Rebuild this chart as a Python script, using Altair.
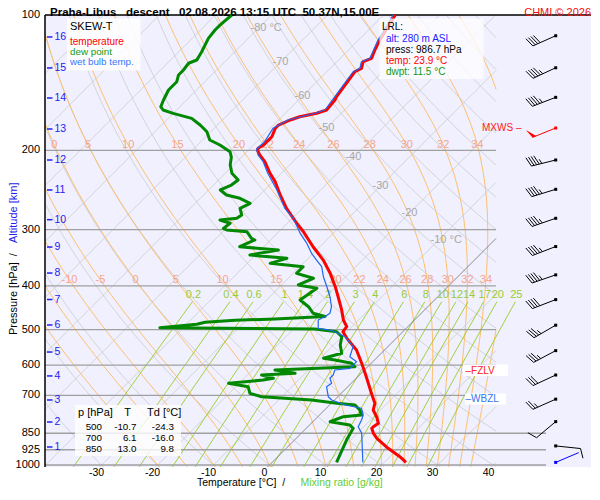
import numpy as np
import pandas as pd
import altair as alt

FONT = "Liberation Sans"

# ---------------------------------------------------------------- sounding
temp_p = [100, 113.7, 119.6, 124.8, 127.0, 131.4, 133.7, 151.9, 154.5, 162.6,
          165.3, 168.3, 171.1, 175.6, 178.6, 186.4, 191.2, 194.5, 197.8, 200,
          204.7, 211.8, 224.8, 234.6, 251.2, 268.9, 290.3, 303.1, 327.3, 350.4,
          375.0, 401.6, 422.7, 452.4, 476.2, 492.8, 505.6, 523.0, 555.3, 594.3,
          625.5, 658.3, 693.0, 729.4, 754.8, 781.1, 807.9, 822.1, 828.8, 850.3,
          872.3, 918.1, 958.5, 986.7]
temp_t = [-57.9, -56.2, -55.3, -54.4, -55.3, -54.4, -55.0, -53.8, -53.5, -53.2,
          -54.4, -56.8, -57.9, -59.1, -59.1, -58.2, -58.2, -58.2, -58.6, -58.3,
          -57.1, -55.0, -52.0, -49.6, -46.3, -42.8, -38.3, -35.6, -31.2, -27.0,
          -23.4, -20.1, -17.8, -14.8, -12.7, -10.9, -10.7, -8.8, -5.0, -1.7,
          0.7, 3.05, 5.4, 7.8, 8.7, 10.5, 12.0, 11.7, 11.7, 12.9,
          14.4, 18.2, 21.8, 23.9]

dwpt_p = [100, 105.3, 108.0, 112.7, 120.7, 125.9, 128.0, 132.5, 135.9, 140.7,
          146.8, 154.5, 159.9, 162.6, 165.4, 169.7, 175.6, 181.7, 189.6, 194.5,
          201.3, 206.9, 215.4, 224.8, 232.6, 238.7, 244.8, 251.2, 255.5, 262.1,
          268.9, 278.3, 283.0, 285.5, 290.3, 297.9, 300.5, 303.1, 313.5, 316.2,
          327.3, 332.9, 341.5, 347.3, 356.3, 362.5, 375.0, 384.7, 398.1, 404.9,
          429.9, 444.9, 460.1, 467.7, 473.8, 476.9, 481.8, 486.8, 495.4, 498.7,
          505.6, 518.7, 541.2, 564.7, 579.3, 584.3, 594.3, 604.8, 615.1, 625.5,
          631.0, 641.7, 647.3, 658.3, 669.9, 693.0, 705.1, 717.1, 729.3, 735.6,
          754.6, 774.3, 781.0, 801.4, 815.1, 829.0, 880.1, 986.7]
dwpt_t = [-87.1, -87.4, -87.4, -87.1, -85.9, -85.3, -86.2, -85.9, -85.9, -85.0,
          -85.0, -84.1, -83.4, -82.4, -80.0, -75.8, -73.1, -70.7, -68.7, -66.0,
          -63.0, -61.8, -60.6, -58.8, -56.5, -56.8, -57.9, -55.9, -52.9, -50.2,
          -51.1, -49.6, -49.9, -52.6, -50.2, -50.5, -49.6, -45.7, -43.7, -42.8,
          -44.3, -36.8, -41.0, -33.8, -35.9, -29.4, -29.4, -25.5, -27.0, -23.1,
          -24.0, -21.3, -19.3, -16.6, -25.1, -32.0, -37.0, -38.1, -44.1, -16.2,
          -11.8, -10.0, -8.8, -7.05, -9.4, -7.05, -3.5, -2.3, -16.0, -11.8,
          -17.5, -14.8, -16.3, -21.9, -17.8, -16.3, -13.6, -4.1, 1.0, 4.55,
          6.3, 7.5, 4.55, 3.1, 7.2, 8.4, 9.3, 11.5]

wetb_p = [100, 113.7, 124.8, 127.0, 131.4, 133.7, 151.9, 162.6, 165.3, 171.1,
          178.6, 191.2, 198.5, 204.7, 211.8, 224.8, 244.8, 268.9, 283.0, 305.6,
          321.8, 338.5, 350.4, 362.5, 381.6, 401.6, 422.7, 444.9, 460.1, 467.7,
          476.2, 496.9, 502.5, 518.7, 545.9, 574.6, 589.4, 609.7, 615.1, 631.0,
          641.7, 658.3, 669.9, 705.1, 717.1, 735.6, 748.1, 774.3, 794.3, 822.1,
          850.3, 986.7]
wetb_t = [-58.3, -56.5, -54.7, -55.6, -54.7, -55.3, -54.1, -53.5, -54.7, -58.3,
          -59.5, -58.6, -58.75, -57.4, -55.3, -52.4, -47.8, -43.1, -39.8, -35.9,
          -32.9, -30.3, -28.2, -26.1, -24.0, -21.6, -19.25, -17.2, -16.3, -16.6,
          -17.2, -15.7, -12.9, -9.4, -6.2, -5.0, -2.9, -2.9, -5.3, -4.7,
          -4.7, -3.5, -3.8, -1.7, -0.5, 2.8, 6.3, 7.8, 8.4, 9.0,
          10.8, 16.2]

# altitude marks on the pressure axis
km_p = [912, 802.6, 717, 634, 561, 488.5, 428.8, 374.5, 327.8, 285, 244.8, 210, 179.2, 152.9, 131.1, 111.9]
km_lab = [str(k) for k in range(1, 17)]

# winds
wind_p = [986.7, 907, 801, 714, 631, 557, 489, 429, 378, 327, 283, 244, 210, 178.3, 152.4, 131, 111.2]
wind_dir = [67, 96, 230, 246, 245, 242, 240, 249, 251, 249, 251, 253, 256, 248, 249, 245, 246]
wind_kt = [2, 10, 10, 25, 30, 35, 35, 40, 45, 45, 45, 45, 45, 50, 45, 45, 40]
wind_col = ["#0000ff"] + ["black"] * 12 + ["#ff0000"] + ["black"] * 3

# table
tab_p = ["500", "700", "850"]
tab_t = ["-10.7", "6.1", "13.0"]
tab_td = ["-24.3", "-16.0", "9.8"]

# grid definitions
isobar_p = [200, 300, 400, 500, 600, 700]
isobar_low_p = [850, 925, 1000]
axis_p = [100, 200, 300, 400, 500, 600, 700, 850, 925, 1000]
axis_t = [-30, -20, -10, 0, 10, 20, 30, 40]
isotherms = list(range(-130, 60, 10))
dry_theta = list(range(-40, 210, 10))
moist_thw = [-20, -15, -10, -5, 0, 5, 10, 15, 20, 22, 24, 26, 28, 30, 32, 34, 36]
mix_w = [0.2, 0.4, 0.6, 1, 1.4, 2, 3, 4, 6, 8, 10, 12, 14, 17, 20, 25]
mix_lab = ["0.2", "0.4", "0.6", "1", "1.4", "2", "3", "4", "6", "8", "10", "12", "14", "17", "20", "25"]
iso_lab_t = [-80, -70, -60, -50, -40, -30, -20, -10]
iso_lab_p = [106.9, 127.2, 151.4, 178.3, 206.9, 239.8, 275.5, 316.2]
iso_lab_txt = ["-80 °C", "-70", "-60", "-50", "-40", "-30", "-20", "-10 °C"]
thw_lab_200 = [0, 5, 10, 15, 20, 22, 24, 26, 28, 30, 32, 34]
thw_lab_400 = [-10, -5, 0, 5, 10, 15, 20, 22, 24, 26, 28, 30, 32, 34]

# ---------------------------------------------------------------- diagram geometry
K = 450 / 5.6                  # skew (°C per decade of pressure)
PB = 100 * 10 ** (455 / 450)   # pressure level of the temperature scale
PLOT_H = 452
PBY = 100 * 10 ** (PLOT_H / 450)  # pressure at the bottom edge of the plot
XMIN, XMAX = -39.2, 58.3
DIAG_R = 41.34
LOW_R = 50.27
LV = 2.515e6


def xs_of(t, p):
    return t + K * np.log10(PB / p)


def clip(ts, ps, lo, hi):
    xs = xs_of(ts, ps)
    segs, cur = [], []
    for i in range(len(ts)):
        ins = lo <= xs[i] <= hi
        if i > 0:
            pins = lo <= xs[i - 1] <= hi
            if ins != pins:
                bound = hi if (xs[i] > hi or xs[i - 1] > hi) else lo
                f = (bound - xs[i - 1]) / (xs[i] - xs[i - 1])
                lp = np.log(ps[i - 1]) + f * (np.log(ps[i]) - np.log(ps[i - 1]))
                tc = ts[i - 1] + f * (ts[i] - ts[i - 1])
                cur.append((tc, float(np.exp(lp))))
                if not ins:
                    segs.append(cur)
                    cur = []
        if ins:
            cur.append((float(ts[i]), float(ps[i])))
    if cur:
        segs.append(cur)
    return [s for s in segs if len(s) > 1]


rows = []
gid = [0]


def add(kind, ts, ps, lo=XMIN, hi=DIAG_R):
    for seg in clip(np.asarray(ts, float), np.asarray(ps, float), lo, hi):
        gid[0] += 1
        for j, (t, p) in enumerate(seg):
            rows.append({"kind": kind, "id": gid[0], "i": j, "t": round(t, 3), "p": round(p, 3)})


for T in isotherms:
    add("iso0" if T == 0 else "iso", [T, T], [PBY, 100])

pp = np.geomspace(PBY, 100, 90)
for th in dry_theta:
    add("dry", (th + 273.15) * (pp / 1000) ** 0.2857 - 273.15, pp)


def dTdlnp(T, p):
    e = 6.112 * np.exp(17.67 * (T - 273.15) / (T - 29.65))
    rs = 0.622 * e / (p - e)
    return (287.04 * T + LV * rs) / (1005.7 + LV ** 2 * rs * 0.622 / (287.04 * T * T))


def run(thw, pl):
    T = thw + 273.15
    out = [T]
    for i in range(1, len(pl)):
        l0, l1 = np.log(pl[i - 1]), np.log(pl[i])
        h = l1 - l0
        pm = np.exp(l0 + h / 2)
        k1 = dTdlnp(T, pl[i - 1])
        k2 = dTdlnp(T + h / 2 * k1, pm)
        k3 = dTdlnp(T + h / 2 * k2, pm)
        k4 = dTdlnp(T + h * k3, pl[i])
        T = T + h / 6 * (k1 + 2 * k2 + 2 * k3 + k4)
        out.append(T)
    return np.array(out)


moist = {}
for thw in moist_thw:
    pu = np.geomspace(1000, 100, 200)
    pdn = np.geomspace(1000, PBY, 4)
    tu, tdn = run(thw, pu), run(thw, pdn)
    ps = np.concatenate([pdn[::-1], pu[1:]])
    ts = np.concatenate([tdn[::-1], tu[1:]]) - 273.15
    moist[thw] = (ts, ps)
    add("moist", ts, ps)


def td_of_w(w, p):
    e = w * p / (622 + w)
    ln = np.log(e / 6.112)
    return 243.5 * ln / (17.67 - ln)


PMIX = 433.7
pm_ = np.geomspace(PBY, PMIX, 25)
for w in mix_w:
    add("mix", td_of_w(w, pm_), pm_, XMIN, XMAX)

grid = pd.DataFrame(rows)


def moist_at(thw, p):
    ts, ps = moist[thw]
    return float(np.interp(np.log(p), np.log(ps[::-1]), ts[::-1]))


lab_moist = pd.DataFrame(
    [{"t": moist_at(v, 194.5), "p": 194.5, "txt": str(v)} for v in thw_lab_200]
    + [{"t": moist_at(v, 388.2), "p": 388.2, "txt": str(v)} for v in thw_lab_400])
lab_mix = pd.DataFrame({"t": [float(td_of_w(w, PMIX)) for w in mix_w], "p": PMIX, "txt": mix_lab})
lab_iso = pd.DataFrame({"t": iso_lab_t, "p": iso_lab_p, "txt": iso_lab_txt})

# ---------------------------------------------------------------- chart
xsc = alt.Scale(domain=[XMIN, XMAX], nice=False, zero=False)
ysc = alt.Scale(type="log", domain=[100, PBY], reverse=True, nice=False)
SK = f"datum.t + {K:.5f}*log({PB:.4f}/datum.p)/LN10"


def X(f="xs"):
    return alt.X(f"{f}:Q", scale=xsc, axis=None)


def Y():
    return alt.Y("p:Q", scale=ysc, axis=None)


def grid_layer(kind, color, width):
    return (alt.Chart(grid).transform_filter(f"datum.kind == '{kind}'")
            .transform_calculate(xs=SK)
            .mark_line(color=color, strokeWidth=width)
            .encode(x=X(), y=Y(), detail="id:N", order="i:Q"))


def prof(p, t, color, width):
    df = pd.DataFrame({"p": p, "t": t, "i": range(len(p))})
    return (alt.Chart(df).transform_calculate(xs=SK)
            .mark_line(color=color, strokeWidth=width, strokeJoin="round")
            .encode(x=X(), y=Y(), order="i:Q"))


def lab_layer(df, color, size=11, dx=0, dy=0, align="center"):
    return (alt.Chart(df).transform_calculate(xs=SK)
            .mark_text(color=color, fontSize=size, dx=dx, dy=dy, align=align, baseline="middle", font=FONT)
            .encode(x=X(), y=Y(), text="txt:N"))


one = pd.DataFrame({"k": [0]})


def txt(s, xp, yp, color="black", size=11, align="left", weight="normal", angle=None, baseline="middle"):
    kw = dict(text=s, color=color, fontSize=size, align=align, fontWeight=weight,
              baseline=baseline, font=FONT)
    if angle is not None:
        kw["angle"] = angle
    return alt.Chart(one).mark_text(**kw).encode(x=alt.value(xp - 45), y=alt.value(yp - 15))


def box(x0, y0, x1, y1, opacity=0.8):
    return alt.Chart(one).mark_rect(color="white", opacity=opacity).encode(
        x=alt.value(x0 - 45), x2=alt.value(x1 - 45), y=alt.value(y0 - 15), y2=alt.value(y1 - 15))


# isobars
isob = pd.DataFrame({"p": isobar_p + isobar_low_p,
                     "x1": [XMIN] * 9,
                     "x2": [DIAG_R] * len(isobar_p) + [LOW_R] * len(isobar_low_p)})
isobars = alt.Chart(isob).mark_rule(color="#a0a0a0", strokeWidth=1.3).encode(
    x=X("x1"), x2="x2:Q", y=Y())
top = alt.Chart(pd.DataFrame({"p": [100], "x1": [XMIN], "x2": [XMAX]})).mark_rule(
    color="black", strokeWidth=1.5).encode(x=X("x1"), x2="x2:Q", y=Y())
left_axis = alt.Chart(one).mark_rule(color="black", strokeWidth=1.5).encode(
    x=alt.value(0), y=alt.value(0), y2=alt.value(PLOT_H))

# axis labels
ylab = alt.Chart(pd.DataFrame({"p": axis_p, "txt": [str(v) for v in axis_p]})).mark_text(
    align="right", baseline="middle", fontSize=11, font=FONT, color="black").encode(
    x=alt.value(-5), y=Y(), text="txt:N")
xlab = alt.Chart(pd.DataFrame({"t": axis_t, "txt": [str(v) for v in axis_t]})).mark_text(
    align="center", baseline="alphabetic", fontSize=10.5, font=FONT, color="black").encode(
    x=X("t"), y=alt.value(475.6 - 15), text="txt:N")

# altitude km ticks
kmdf = pd.DataFrame({"p": km_p, "txt": km_lab})
km_ticks = alt.Chart(kmdf).mark_rule(color="#2222ee", strokeWidth=1.5).encode(
    x=alt.value(2), x2=alt.value(7.5), y=Y())
km_text = alt.Chart(kmdf).mark_text(color="#2222ee", fontSize=10.5, align="left", baseline="middle",
                                     font=FONT).encode(x=alt.value(9.5), y=Y(), text="txt:N")


# wind barbs
def barb_path(direction, speed, L=25.0, fl=10.0, gap=2.7):
    a = np.radians(direction)
    dx, dy = np.sin(a), -np.cos(a)
    nx, ny = -dy, dx
    c, s_ = np.cos(np.radians(20)), np.sin(np.radians(20))
    fx, fy = nx * c + dx * s_, ny * c + dy * s_

    def pt(v):
        return f"{v[0]:.2f},{v[1]:.2f}"
    path = "M0,0L" + pt((dx * L, dy * L))
    pen = ""
    v = int(round(speed / 5.0)) * 5
    pos = L
    while v >= 50:
        b0 = (dx * pos, dy * pos)
        pen += "M" + pt(b0) + "L" + pt((b0[0] + fx * fl, b0[1] + fy * fl)) + "L" + pt((dx * (pos - 4), dy * (pos - 4))) + "Z"
        pos -= 6
        v -= 50
    while v >= 10:
        b0 = (dx * pos, dy * pos)
        path += "M" + pt(b0) + "L" + pt((b0[0] + fx * fl, b0[1] + fy * fl))
        pos -= gap
        v -= 10
    if v >= 5:
        if pos == L:
            pos -= gap
        b0 = (dx * pos, dy * pos)
        path += "M" + pt(b0) + "L" + pt((b0[0] + fx * fl * 0.5, b0[1] + fy * fl * 0.5))
    return path, pen


paths, pens = zip(*[barb_path(d, s) for d, s in zip(wind_dir, wind_kt)])
wind_df = pd.DataFrame({"p": wind_p, "path": paths, "pen": pens, "col": wind_col})
BX = 555.7 - 45
barbs = alt.Chart(wind_df).mark_point(filled=False, opacity=1, strokeWidth=1).encode(
    x=alt.value(BX), y=Y(), shape=alt.Shape("path:N", scale=None),
    color=alt.Color("col:N", scale=None), size=alt.value(4))
pennants = alt.Chart(wind_df).transform_filter("datum.pen != ''").mark_point(
    filled=True, opacity=1, strokeWidth=1).encode(
    x=alt.value(BX), y=Y(), shape=alt.Shape("pen:N", scale=None),
    color=alt.Color("col:N", scale=None), size=alt.value(4))
dots = alt.Chart(wind_df).mark_square(filled=True, opacity=1, size=9).encode(
    x=alt.value(BX), y=Y(), color=alt.Color("col:N", scale=None))


def lvl_label(s, p, xp, color):
    return alt.Chart(pd.DataFrame({"p": [p]})).mark_text(
        text=s, fontSize=10, align="left", baseline="middle", font=FONT, color=color).encode(
        x=alt.value(xp - 45), y=Y())


layers = [
    grid_layer("iso", "#cccccc", 0.8),
    grid_layer("dry", "#cccccc", 0.8),
    grid_layer("moist", "#ffbe6a", 1),
    grid_layer("mix", "#99cc22", 0.9),
    grid_layer("iso0", "#707070", 0.8),
    isobars,
    top,
    left_axis,
    ylab, xlab,
    lab_layer(lab_iso, "#a8a8a8", 11, dx=-8, align="left"),
    lab_layer(lab_moist, "#f5a58a", 11),
    lab_layer(lab_mix, "#99cc33", 11, dx=1, dy=-6.5),
    prof(dwpt_p, dwpt_t, "#008800", 3),
    prof(temp_p, temp_t, "#ff0000", 3),
    prof(wetb_p, wetb_t, "#2266ee", 1.2),
    km_ticks, km_text,
    # legend box
    box(67, 18.5, 140.5, 70.5, 0.85),
    txt("SKEW-T", 70, 26.5, "black", 11),
    txt("temperature", 70, 42, "#ff0000", 10),
    txt("dew point", 70, 51.9, "#119911", 9.8),
    txt("wet bulb temp.", 70, 62, "#3377ff", 9.8),
    # LRL box
    box(379.5, 18.5, 483.5, 79, 0.75),
    txt("LRL:", 382, 27.3, "black", 10),
    txt("alt: 280 m ASL", 386, 39.3, "#1a1aff", 10),
    txt("press: 986.7 hPa", 386, 50.1, "black", 10),
    txt("temp: 23.9 °C", 386, 60.9, "#ff0000", 10),
    txt("dwpt: 11.5 °C", 386, 71.7, "#119911", 10),
    # level labels
    box(463, 364.5, 508, 376, 1.0),
    box(465, 393.5, 506, 404.5, 1.0),
    lvl_label("MXWS –", 178.3, 482, "#ff2020"),
    lvl_label("–FZLV", 617, 465.5, "#ff2020"),
    lvl_label("–WBZL", 713, 465.5, "#3377ee"),
    # table
    box(75, 405, 181, 456, 0.8),
    txt("p [hPa]", 78, 413.3, "black", 11),
    txt("T", 127.5, 413.3, "black", 11, align="center"),
    txt("Td [°C]", 147, 413.3, "black", 11),
]
for k in range(3):
    yy = 426.8 + 11.2 * k
    layers += [txt(tab_p[k], 102, yy, "black", 9.8, align="right"),
               txt(tab_t[k], 136.5, yy, "black", 9.8, align="right"),
               txt(tab_td[k], 174, yy, "black", 9.8, align="right")]
layers += [
    barbs, pennants, dots,
    # titles
    txt("Praha-Libus\u00a0\u00a0\u00a0descent\u00a0\u00a0\u00a002.08.2026 13:15 UTC\u00a0\u00a050.37N,15.00E",
        50, 16.2, "black", 11.5, weight="bold", baseline="alphabetic"),
    txt("CHMI © 2026", 591, 16.2, "#ee1111", 11, align="right", baseline="alphabetic"),
    txt("Temperature [°C]\u00a0\u00a0/", 197, 486.3, "black", 10.5, baseline="alphabetic"),
    txt("Mixing ratio [g/kg]", 300.5, 486.3, "#66cc33", 10.5, baseline="alphabetic"),
    txt("Pressure [hPa]\u00a0\u00a0/", 14, 335, "black", 11, angle=270),
    txt("Altitude [km]", 14, 243, "#2222ee", 11, angle=270),
]

chart = alt.layer(*layers).properties(
    width=546, height=PLOT_H,
    padding={"left": 37, "top": 7, "right": 1, "bottom": 480 - 7 - PLOT_H},
    autosize=alt.AutoSizeParams(type="none"),
).configure_view(fill="#f0f0ff", stroke=None)

chart.save("out.html", embed_options={"renderer": "svg", "actions": False})
